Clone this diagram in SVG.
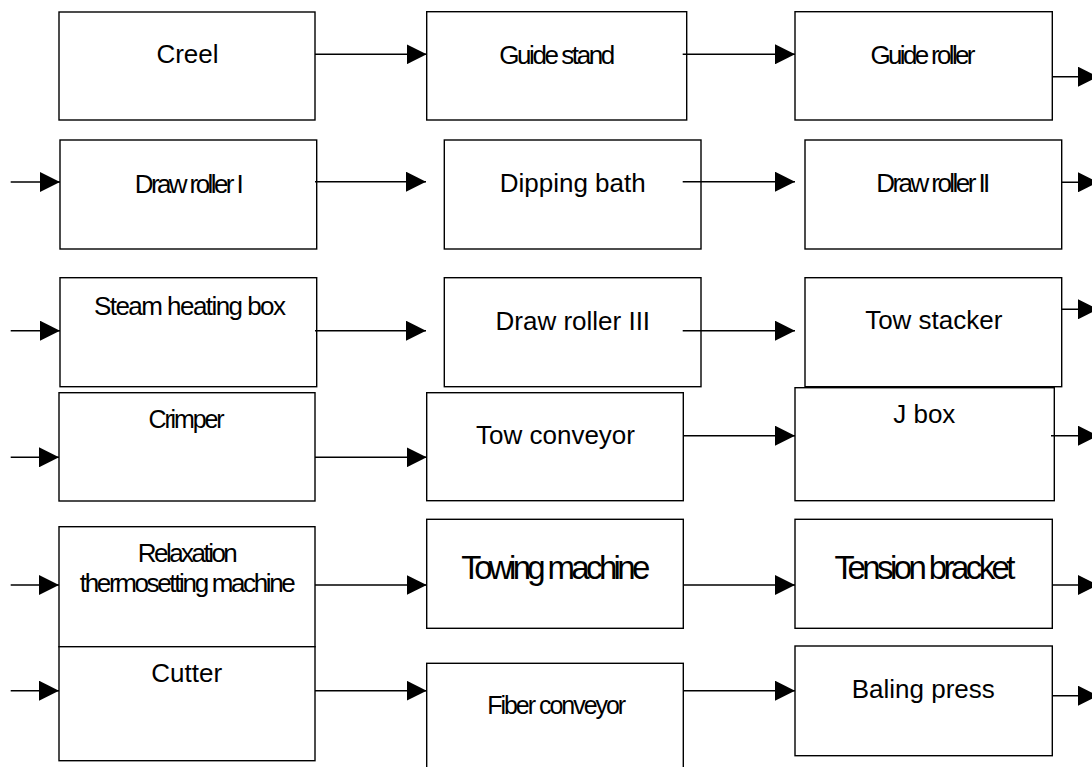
<svg xmlns="http://www.w3.org/2000/svg" width="1092" height="767" viewBox="0 0 1092 767">
  <style>
    .box { fill: #ffffff; stroke: #000000; stroke-width: 1.4; }
    .lbl { font-family: "Liberation Sans", Arial, sans-serif; font-size: 26px; fill: #000000; text-anchor: middle; }
    .big { font-size: 33px; }
    .sm { font-size: 25px; }
    .flow { stroke: #000000; stroke-width: 1.4; fill: none; marker-end: url(#head); }
  </style>
  <defs>
    <marker id="head" markerUnits="userSpaceOnUse" markerWidth="20" markerHeight="20" refX="20" refY="10" orient="auto">
      <path d="M0,0 L20,10 L0,20 Z" fill="#000000"/>
    </marker>
  </defs>

  <!-- process steps -->
  <g id="creel">
    <rect class="box" x="59" y="12" width="256" height="108"/>
    <text class="lbl" x="187.5" y="63.3">Creel</text>
  </g>
  <g id="guide-stand">
    <rect class="box" x="426.7" y="11.7" width="260" height="108.3"/>
    <text class="lbl" x="557.2" y="64" textLength="116">Guide stand</text>
  </g>
  <g id="guide-roller">
    <rect class="box" x="795" y="11.7" width="257.3" height="108.3"/>
    <text class="lbl" x="923" y="64" textLength="105">Guide roller</text>
  </g>

  <g id="draw-roller-1">
    <rect class="box" x="60" y="140" width="256.7" height="109"/>
    <text class="lbl" x="189.2" y="192.7" textLength="109">Draw roller I</text>
  </g>
  <g id="dipping-bath">
    <rect class="box" x="444.3" y="140" width="256.7" height="109"/>
    <text class="lbl" x="572.7" y="192.3">Dipping bath</text>
  </g>
  <g id="draw-roller-2">
    <rect class="box" x="805" y="140" width="256.7" height="109"/>
    <text class="lbl" x="933.3" y="192.3" textLength="114">Draw roller II</text>
  </g>

  <g id="steam-heating-box">
    <rect class="box" x="60" y="277.7" width="256.7" height="109"/>
    <text class="lbl" x="190" y="315" textLength="192">Steam heating box</text>
  </g>
  <g id="draw-roller-3">
    <rect class="box" x="444.3" y="277.7" width="256.7" height="109"/>
    <text class="lbl" x="572.8" y="330">Draw roller III</text>
  </g>
  <g id="tow-stacker">
    <rect class="box" x="805" y="277.7" width="256.7" height="109"/>
    <text class="lbl" x="933.8" y="329.3">Tow stacker</text>
  </g>

  <g id="crimper">
    <rect class="box" x="59" y="392.7" width="256" height="108.3"/>
    <text class="lbl sm" x="186.5" y="428.3" textLength="76">Crimper</text>
  </g>
  <g id="tow-conveyor">
    <rect class="box" x="426.7" y="392.7" width="256.6" height="108"/>
    <text class="lbl" x="555.5" y="444">Tow conveyor</text>
  </g>
  <g id="j-box">
    <rect class="box" x="795" y="387.7" width="259.3" height="113"/>
    <text class="lbl" x="924.3" y="423.3">J box</text>
  </g>

  <g id="relaxation-thermosetting">
    <rect class="box" x="59" y="526.7" width="256" height="120"/>
    <text class="lbl" x="187.8" y="562.3" textLength="100">Relaxation</text>
    <text class="lbl" x="187.8" y="592.3" textLength="216">thermosetting machine</text>
  </g>
  <g id="towing-machine">
    <rect class="box" x="426.7" y="519.3" width="256.6" height="109"/>
    <text class="lbl big" x="555.8" y="579.3" textLength="189">Towing machine</text>
  </g>
  <g id="tension-bracket">
    <rect class="box" x="795" y="519.3" width="257.3" height="109"/>
    <text class="lbl big" x="925" y="579.3" textLength="181">Tension bracket</text>
  </g>

  <g id="cutter">
    <rect class="box" x="59" y="646.7" width="256" height="114"/>
    <text class="lbl" x="186.7" y="681.7">Cutter</text>
  </g>
  <g id="fiber-conveyor">
    <rect class="box" x="426.7" y="663.3" width="256.6" height="120"/>
    <text class="lbl sm" x="556.7" y="714.3" textLength="139">Fiber conveyor</text>
  </g>
  <g id="baling-press">
    <rect class="box" x="795" y="646" width="257.3" height="109.7"/>
    <text class="lbl" x="923.3" y="698.3">Baling press</text>
  </g>

  <!-- connectors -->
  <g id="connectors">
    <!-- row 1 -->
    <line class="flow" x1="315" y1="54.3" x2="426.7" y2="54.3"/>
    <line class="flow" x1="682.7" y1="54.3" x2="795" y2="54.3"/>
    <line class="flow" x1="1052.3" y1="76.7" x2="1098" y2="76.7"/>
    <!-- row 2 -->
    <line class="flow" x1="10.7" y1="182" x2="60" y2="182"/>
    <line class="flow" x1="315" y1="181.7" x2="426" y2="181.7"/>
    <line class="flow" x1="682.7" y1="181.7" x2="795" y2="181.7"/>
    <line class="flow" x1="1061.7" y1="182.3" x2="1098" y2="182.3"/>
    <!-- row 3 -->
    <line class="flow" x1="10.7" y1="330.7" x2="60" y2="330.7"/>
    <line class="flow" x1="315" y1="330.7" x2="426" y2="330.7"/>
    <line class="flow" x1="682.7" y1="330.7" x2="795" y2="330.7"/>
    <line class="flow" x1="1061.7" y1="309.3" x2="1098" y2="309.3"/>
    <!-- row 4 -->
    <line class="flow" x1="10.7" y1="457.3" x2="59" y2="457.3"/>
    <line class="flow" x1="315" y1="457.3" x2="426.7" y2="457.3"/>
    <line class="flow" x1="683.3" y1="435.7" x2="795" y2="435.7"/>
    <line class="flow" x1="1051" y1="435.7" x2="1098" y2="435.7"/>
    <!-- row 5 -->
    <line class="flow" x1="10.7" y1="585" x2="59" y2="585"/>
    <line class="flow" x1="315" y1="585" x2="426.7" y2="585"/>
    <line class="flow" x1="683.3" y1="585" x2="795" y2="585"/>
    <line class="flow" x1="1052.3" y1="585" x2="1098" y2="585"/>
    <!-- row 6 -->
    <line class="flow" x1="10.7" y1="690.7" x2="59" y2="690.7"/>
    <line class="flow" x1="315" y1="690.7" x2="426.7" y2="690.7"/>
    <line class="flow" x1="683.3" y1="690.7" x2="795" y2="690.7"/>
    <line class="flow" x1="1052.3" y1="695.7" x2="1098" y2="695.7"/>
  </g>
</svg>
